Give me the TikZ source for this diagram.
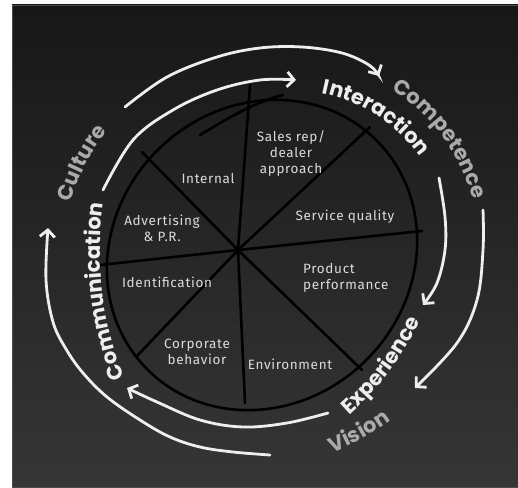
\documentclass[tikz,border=0pt]{standalone}
\usepackage{fontspec}
\setmainfont{Fira Sans}[LetterSpace=5]
\newfontfamily\ringfont{Poppins}
\usetikzlibrary{arrows.meta,decorations.text}
\definecolor{boardtop}{HTML}{171717}
\definecolor{boardbot}{HTML}{363636}
\definecolor{chalk}{HTML}{EEEEEE}
\definecolor{ash}{HTML}{AAAAAA}
\newcommand\ringwhite{\ringfont\bfseries\fontsize{21}{21}\selectfont\color{chalk}}
\newcommand\ringgray{\ringfont\bfseries\fontsize{21}{21}\selectfont\color{ash}}
\tikzset{
  spoke/.style={black, line width=2.6pt, line cap=round},
  flow/.style={chalk, line width=2.8pt, line cap=round, -{Straight Barb[length=7pt,width=15pt]}},
  cell/.style={text=chalk!92!black, font=\fontsize{13.5}{16}\selectfont, align=center, inner sep=0pt},
  ring/.style={decorate, decoration={text along path, text align=center, text={#1}}},
}
\begin{document}
\begin{tikzpicture}[x=1pt,y=1pt]
    \useasboundingbox (0,0) rectangle (518,487);
    % board
    \fill[white] (0,0) rectangle (518,487);
    \shade[top color=boardtop, bottom color=boardbot, draw=gray!60!black, line width=0.6pt] (12,0) rectangle (518,482);

    \coordinate (hub) at (238,237);
    \coordinate (wheelc) at (262,232);
    \coordinate (ringc) at (290,237);
    \coordinate (commc) at (442,237);
    \coordinate (expc) at (150,296);
    \coordinate (visc) at (217,311);

    % wheel rim and stray stroke
    \draw[spoke, rotate around={45:(wheelc)}] (wheelc) ellipse[x radius=162, y radius=148];
    \draw[spoke] (200,352) .. controls (230,370) and (255,385) .. (283,392);
    % spokes
    \foreach \x/\y in {250/402, 370/360, 422/256, 362/117, 245/84, 136/130, 100/222, 142/335}
        \draw[spoke] (hub) -- (\x,\y);

    % segments
    \node[cell] (internal) at (208,308) {Internal};
    \node[cell] (sales) at (291,334) {Sales rep/\\dealer\\approach};
    \node[cell] (service) at (345,270) {Service quality};
    \node[cell] (advert) at (162,259) {Advertising\\\& P.R.};
    \node[cell] (ident) at (167,205) {Identification};
    \node[cell, align=left, anchor=west] (product) at (303,209) {Product\\performance};
    \node[cell] (corporate) at (197,135) {Corporate\\behavior};
    \node[cell] (environ) at (290,123) {Environment};

    % arrows round the wheel
    \draw[flow] plot[smooth, tension=0.6] coordinates {(103,297) (133,347) (173,377) (217,397) (260,407) (296,407)};
    \draw[flow] plot[smooth, tension=0.6] coordinates {(125,380) (167,410) (217,430) (260,439) (302,440) (342,434) (369,422) (379,411)};
    \draw[flow] plot[smooth, tension=0.6] coordinates {(439,309) (445,270) (445,237) (437,204) (423,182)};
    \draw[flow] plot[smooth, tension=0.6] coordinates {(483,277) (483,237) (477,187) (457,144) (415,99)};
    \draw[flow] plot[smooth, tension=0.6] coordinates {(328,74) (287,64) (243,60) (200,67) (157,85) (127,99)};
    \draw[flow] plot[smooth, tension=0.6] coordinates {(270,32) (233,35) (200,40) (170,50) (140,67) (107,90) (83,114) (66,138) (53,165) (46,207) (48,259)};

    % words on the rings
    \path[ring={|\ringwhite|Interaction}] ([shift={(87:160pt)}]ringc) arc[start angle=87, end angle=27, radius=160pt];
    \path[ring={|\ringgray|Competence}] ([shift={(66:190pt)}]ringc) arc[start angle=66, end angle=7, radius=190pt];
    \path[ring={|\ringgray|Culture}] ([shift={(175:198pt)}]wheelc) arc[start angle=175, end angle=131, radius=198pt];
    \path[ring={|\ringwhite|Communication}] ([shift={(205:342pt)}]commc) arc[start angle=205, end angle=169, radius=342pt];
    \path[ring={|\ringwhite|Experience}] ([shift={(-67:300pt)}]expc) arc[start angle=-67, end angle=-7, radius=300pt];
    \path[ring={|\ringgray|Vision}] ([shift={(-81:300pt)}]visc) arc[start angle=-81, end angle=-41, radius=300pt];
\end{tikzpicture}
\end{document}
